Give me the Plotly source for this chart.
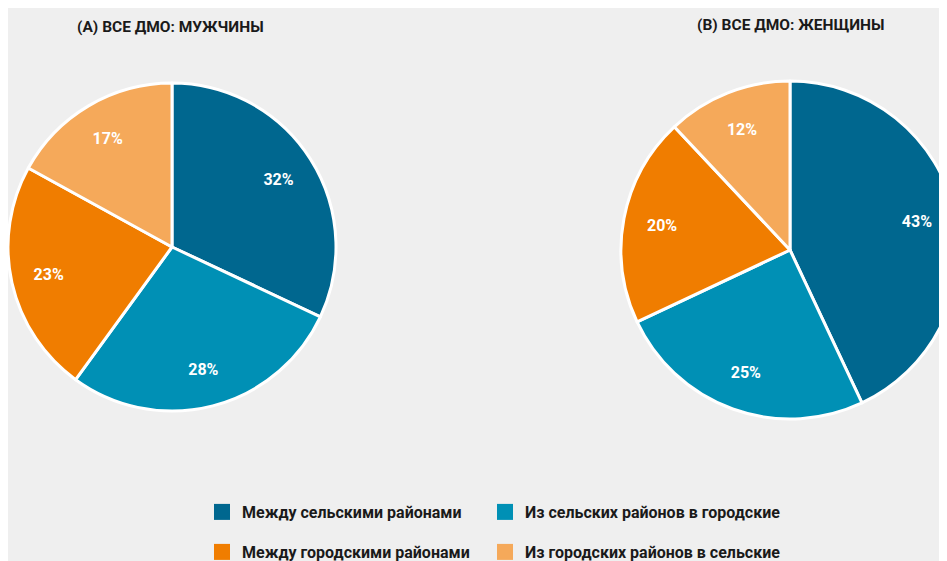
import plotly.graph_objects as go

categories = [
    "Между сельскими районами",
    "Из сельских районов в городские",
    "Между городскими районами",
    "Из городских районов в сельские",
]
men_values = [32, 28, 23, 17]
women_values = [43, 25, 20, 12]
titles = ["(A) ВСЕ ДМО: МУЖЧИНЫ", "(B) ВСЕ ДМО: ЖЕНЩИНЫ"]
colors = ["#00678f", "#0090b5", "#f07d00", "#f5a95a"]

FONT = "Roboto, DejaVu Sans Condensed, sans-serif"
W, H = 952, 561

fig = go.Figure()

def dom_x(a, b):
    return [a / W, b / W]

def dom_y(top, bottom):
    return [1 - bottom / H, 1 - top / H]

pies = [
    (men_values, dom_x(0, 328), dom_y(75, 403)),
    (women_values, dom_x(613, 951), dom_y(73, 411)),
]
for vals, dx, dy in pies:
    fig.add_trace(go.Pie(
        labels=categories, values=vals, domain=dict(x=dx, y=dy),
        sort=False, direction="clockwise", rotation=0,
        marker=dict(colors=colors, line=dict(color="white", width=3)),
        textinfo="none", showlegend=False, hoverinfo="label+percent",
    ))
    fig.add_trace(go.Pie(
        labels=categories, values=vals, domain=dict(x=dx, y=dy),
        sort=False, direction="clockwise", rotation=0, hole=0.54,
        marker=dict(colors=["rgba(0,0,0,0)"] * 4, line=dict(width=0)),
        texttemplate="<b>%{value}%</b>", textposition="inside",
        insidetextorientation="horizontal",
        textfont=dict(color="white", size=16, family=FONT),
        showlegend=False, hoverinfo="skip",
    ))

# legend entries: one legend per cell of a 2x2 grid
legend_names = ["legend", "legend2", "legend3", "legend4"]
for cat, col, lg in zip(categories, colors, legend_names):
    fig.add_trace(go.Scatter(
        x=[None], y=[None], mode="markers", name=cat,
        marker=dict(symbol="square", size=16, color=col),
        legend=lg,
    ))

title_pos = [(162, 19), (782, 17)]
for t, (tx, ty) in zip(titles, title_pos):
    fig.add_annotation(text="<b>" + t + "</b>", x=tx / W, y=1 - ty / H,
                       xref="paper", yref="paper", showarrow=False,
                       xanchor="center", yanchor="middle",
                       font=dict(size=15.5, color="#1a1a1a", family=FONT))

legend_common = dict(
    orientation="h", xanchor="left", yanchor="middle",
    font=dict(size=16, color="#1a1a1a", family=FONT, weight="bold"),
    itemclick=False, itemdoubleclick=False, bgcolor="rgba(0,0,0,0)",
)
legend_xy = [(194, 504), (477, 504), (194, 544), (477, 544)]
legend_layout = {
    lg: dict(x=lx / W, y=1 - ly / H, **legend_common)
    for lg, (lx, ly) in zip(legend_names, legend_xy)
}
fig.update_layout(
    width=W, height=H,
    margin=dict(l=0, r=0, t=0, b=0),
    paper_bgcolor="#efefef",
    plot_bgcolor="#efefef",
    xaxis=dict(visible=False),
    yaxis=dict(visible=False),
    **legend_layout,
)

fig.write_html("out.html")
